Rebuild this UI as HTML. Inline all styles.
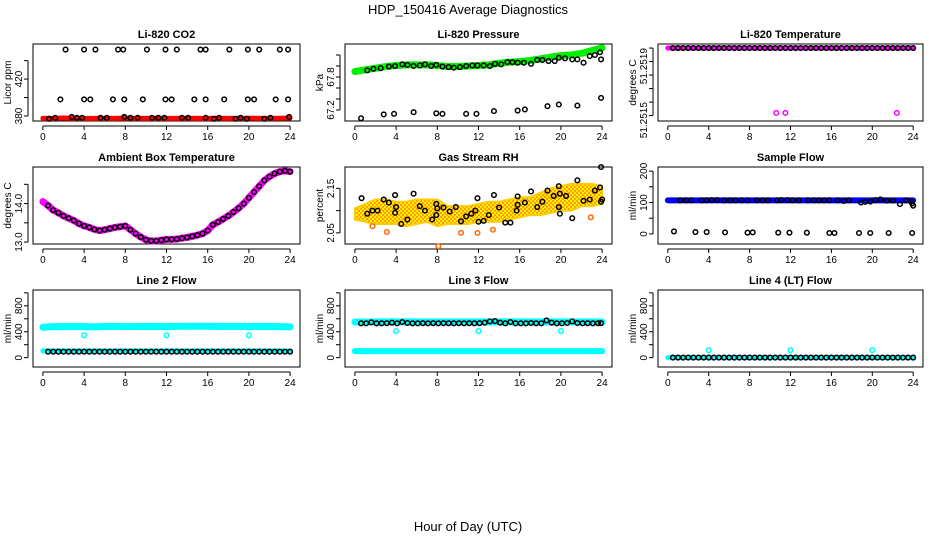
<!DOCTYPE html>
<html><head><meta charset="utf-8"><style>
html,body{margin:0;padding:0;background:#fff;}
svg{display:block;font-family:"Liberation Sans",sans-serif;}
</style></head><body>
<svg id="chart" width="936" height="540" viewBox="0 0 936 540" xmlns="http://www.w3.org/2000/svg">
<defs>
<pattern id="rhpat" width="4" height="4" patternUnits="userSpaceOnUse">
<rect width="4" height="4" fill="#ffee00"/><circle cx="1" cy="1" r="0.9" fill="#ff6a00"/><circle cx="3" cy="3" r="0.9" fill="#ff6a00"/>
</pattern>
</defs>
<text x="468" y="14" text-anchor="middle" font-size="13">HDP_150416  Average Diagnostics</text>
<text x="468" y="531" text-anchor="middle" font-size="13">Hour of Day (UTC)</text>
</svg>
<script>
// ---------- data ----------
const hours = [0,1,2,3,4,5,6,7,8,9,10,11,12,13,14,15,16,17,18,19,20,21,22,23,24];
const xTicks = [0,4,8,12,16,20,24];

// CO2
const co2Band = [377.5,377.5,377.8,377.6,377.5,377.4,377.6,377.5,377.8,377.5,377.4,377.6,377.5,377.5,377.6,377.4,377.5,377.6,377.4,377.5,377.6,377.5,377.4,377.6,377.8];
const co2LowX = [0.6,1.2,2.8,3.3,3.8,5.6,6.2,7.9,8.5,9.2,10.6,11.2,11.8,13.5,14.1,15.8,16.6,17.1,18.7,19.2,19.8,21.5,22.1,23.9];
const co2LowY = [377,378,379,378,378,378,378,379,378,378,378,378,378,378,378,378,377,378,377,378,377,377,378,379];
const co2MidX = [1.7,4.0,4.6,6.8,7.9,9.7,11.9,12.5,14.7,15.8,17.6,19.9,20.5,22.6,23.8];
const co2MidY = [398,398,398,398,398,398,398,398,398,398,398,398,398,398,398];
const co2TopX = [2.2,4.0,5.1,7.3,7.8,10.1,11.9,13.0,15.3,15.8,18.1,19.9,21.0,23.0,23.8];
const co2TopY = [452,452,452,452,452,452,452,452,452,452,452,452,452,452,452];

// Pressure
const presBand = [67.90,67.93,67.96,67.99,68.01,68.02,68.02,68.02,68.01,67.99,67.99,68.00,68.01,68.02,68.05,68.07,68.08,68.10,68.13,68.16,68.19,68.20,68.23,68.28,68.33];
const presHiX = [1.2,1.8,2.5,3.3,3.9,4.6,5.1,5.7,6.3,6.8,7.4,7.9,8.5,9.1,9.6,10.2,10.8,11.4,11.9,12.5,13.1,13.6,14.2,14.8,15.3,15.8,16.4,17.1,17.7,18.2,18.8,19.4,19.8,20.4,21.1,21.6,22.2,22.8,23.3,23.8,23.9];
const presHiY = [67.92,67.95,67.96,67.99,68.00,68.03,68.02,68.00,68.01,68.03,68.00,68.02,67.99,67.98,67.97,67.98,68.00,68.01,68.01,68.01,68.00,68.04,68.03,68.07,68.07,68.06,68.06,68.04,68.11,68.11,68.09,68.09,68.15,68.14,68.12,68.12,68.06,68.18,68.20,68.25,68.12];
const presLoX = [0.6,2.8,3.8,5.7,7.9,8.5,10.8,11.8,13.5,15.8,16.5,18.7,19.8,21.6,23.9];
const presLoY = [67.05,67.12,67.13,67.16,67.14,67.13,67.13,67.13,67.18,67.19,67.21,67.27,67.30,67.28,67.42];

// Li-820 Temperature
const tempBand = [51.2519,51.2519,51.2519,51.2519,51.2519,51.2519,51.2519,51.2519,51.2519,51.2519,51.2519,51.2519,51.2519,51.2519,51.2519,51.2519,51.2519,51.2519,51.2519,51.2519,51.2519,51.2519,51.2519,51.2519,51.2519];
const tempPtX = [0.5,1,1.5,2,2.5,3,3.5,4,4.5,5,5.5,6,6.5,7,7.5,8,8.5,9,9.5,10,10.5,11,11.5,12,12.5,13,13.5,14,14.5,15,15.5,16,16.5,17,17.5,18,18.5,19,19.5,20,20.5,21,21.5,22,22.5,23,23.5,24];
const tempPtY = [51.2519,51.2519,51.2519,51.2519,51.2519,51.2519,51.2519,51.2519,51.2519,51.2519,51.2519,51.2519,51.2519,51.2519,51.2519,51.2519,51.2519,51.2519,51.2519,51.2519,51.2519,51.2519,51.2519,51.2519,51.2519,51.2519,51.2519,51.2519,51.2519,51.2519,51.2519,51.2519,51.2519,51.2519,51.2519,51.2519,51.2519,51.2519,51.2519,51.2519,51.2519,51.2519,51.2519,51.2519,51.2519,51.2519,51.2519,51.2519];
const tempOutX = [10.6,11.5,22.4];
const tempOutY = [51.25142,51.25142,51.25142];

// Ambient box temperature
const ambX = [0,0.5,1,1.5,2,2.5,3,3.5,4,4.5,5,5.5,6,6.5,7,7.5,8,8.5,9,9.5,10,10.5,11,11.5,12,12.5,13,13.5,14,14.5,15,15.5,16,16.5,17,17.5,18,18.5,19,19.5,20,20.5,21,21.5,22,22.5,23,23.5,24];
const ambY = [14.05,13.95,13.83,13.76,13.68,13.62,13.56,13.48,13.42,13.38,13.33,13.30,13.32,13.35,13.38,13.40,13.42,13.32,13.22,13.13,13.06,13.03,13.03,13.05,13.07,13.07,13.08,13.10,13.12,13.15,13.18,13.22,13.30,13.45,13.52,13.60,13.68,13.78,13.88,14.00,14.15,14.30,14.45,14.60,14.70,14.78,14.83,14.85,14.83];

// Gas stream RH
const rhLow = [2.08,2.075,2.07,2.07,2.07,2.065,2.07,2.075,2.065,2.07,2.07,2.07,2.075,2.075,2.075,2.08,2.085,2.09,2.09,2.095,2.10,2.10,2.11,2.11,2.115];
const rhHigh = [2.105,2.115,2.125,2.125,2.12,2.12,2.125,2.125,2.125,2.11,2.11,2.11,2.115,2.12,2.12,2.125,2.13,2.13,2.14,2.15,2.155,2.16,2.16,2.16,2.155];
const rhOrX = [1.7,3.1,8.1,10.3,11.9,13.4,22.9];
const rhOrY = [2.065,2.052,2.02,2.05,2.05,2.057,2.085];
const rhBlkX = [0.65,1.2,1.7,2.2,2.8,3.3,3.9,3.9,4.0,4.5,5.1,5.7,6.3,6.8,7.5,7.9,7.9,8.0,8.6,9.2,9.8,10.3,10.8,11.3,11.7,11.9,12.0,12.5,13.0,13.5,14.0,14.6,15.1,15.7,15.8,15.8,16.5,17.1,17.7,18.2,18.7,19.3,19.8,19.8,19.9,19.9,20.5,21.1,21.6,22.2,22.8,23.3,23.8,23.9,23.9,24.0];
const rhBlkY = [2.128,2.093,2.10,2.10,2.125,2.118,2.135,2.095,2.108,2.07,2.08,2.138,2.11,2.10,2.08,2.115,2.09,2.105,2.107,2.098,2.108,2.076,2.087,2.093,2.10,2.128,2.075,2.077,2.09,2.135,2.107,2.073,2.073,2.10,2.132,2.113,2.118,2.143,2.108,2.12,2.145,2.133,2.155,2.108,2.138,2.093,2.133,2.083,2.168,2.122,2.125,2.145,2.152,2.198,2.12,2.125];

// Sample flow
const sfBand = [107,107,107,107,107,107,107,107,107,107,107,107,107,107,107,107,107,107,107,107,107,107,107,107,107];
const sfHiX = [1.2,1.8,2.3,3.3,3.8,4.3,4.8,5.5,6.1,6.6,7.2,7.8,8.7,9.3,9.8,10.7,11.1,11.7,12.2,12.8,13.7,14.3,14.8,15.3,15.8,16.6,17.2,17.7,18.9,19.3,19.8,20.3,20.8,21.4,22.0,22.7,23.3,23.8,23.9,24.0];
const sfHiY = [107,107,107,107,107,108,108,107,107,107,107,107,107,107,107,107,108,108,107,107,107,107,107,107,107,107,105,107,100,102,103,108,110,106,106,95,107,103,97,90];
const sfLoX = [0.6,2.7,3.8,5.6,7.8,8.3,10.8,11.9,13.6,15.8,16.3,18.7,19.8,21.6,23.9];
const sfLoY = [8,6,6,5,4,5,4,4,4,3,3,3,3,3,3];

// Line 2 flow
const l2Hi = [470,478,478,480,478,476,480,482,478,480,480,482,478,482,485,485,485,483,483,483,480,482,480,478,476];
const l2Lo = [105,105,105,105,105,105,105,105,105,105,105,105,105,105,105,105,105,105,105,105,105,105,105,105,105];
const l2BlkX = [0.5,1,1.5,2,2.5,3,3.5,4,4.5,5,5.5,6,6.5,7,7.5,8,8.5,9,9.5,10,10.5,11,11.5,12,12.5,13,13.5,14,14.5,15,15.5,16,16.5,17,17.5,18,18.5,19,19.5,20,20.5,21,21.5,22,22.5,23,23.5,24];
const l2BlkY = [92,92,92,92,92,92,92,92,92,92,92,92,92,92,92,92,92,92,92,92,92,92,92,92,92,92,92,92,92,92,92,92,92,92,92,92,92,92,92,92,92,92,92,92,92,92,92,92];
const l2OutX = [4,12,20];
const l2OutY = [345,345,345];

// Line 3 flow
const l3Hi = [550,548,552,552,552,552,552,552,552,552,552,552,552,552,552,552,552,552,552,552,552,552,552,552,550];
const l3Lo = [100,100,100,100,100,100,100,100,100,100,100,100,100,100,100,100,100,100,100,100,100,100,100,100,100];
const l3BlkX = [0.6,1.1,1.6,2.1,2.6,3.1,3.6,4.1,4.6,5.1,5.6,6.1,6.6,7.1,7.6,8.1,8.6,9.1,9.6,10.1,10.6,11.1,11.6,12.1,12.6,13.1,13.6,14.1,14.6,15.1,15.6,16.1,16.6,17.1,17.6,18.1,18.6,19.1,19.6,20.1,20.6,21.1,21.6,22.1,22.6,23.1,23.6,23.9];
const l3BlkY = [530,530,545,530,530,532,540,530,550,535,530,530,532,530,532,530,532,532,530,532,530,532,530,532,540,560,565,540,530,550,530,530,530,535,530,530,575,540,530,530,535,560,535,530,532,530,532,532];
const l3OutX = [4,12,20];
const l3OutY = [410,410,410];

// Line 4 flow
const l4Band = [0,0,0,0,0,0,0,0,0,0,0,0,0,0,0,0,0,0,0,0,0,0,0,0,0];
const l4BlkX = [0.5,1,1.5,2,2.5,3,3.5,4,4.5,5,5.5,6,6.5,7,7.5,8,8.5,9,9.5,10,10.5,11,11.5,12,12.5,13,13.5,14,14.5,15,15.5,16,16.5,17,17.5,18,18.5,19,19.5,20,20.5,21,21.5,22,22.5,23,23.5,24];
const l4BlkY = [2,2,2,2,2,2,2,2,2,2,2,2,2,2,2,2,2,2,2,2,2,2,2,2,2,2,2,2,2,2,2,2,2,2,2,2,2,2,2,2,2,2,2,2,2,2,2,2];
const l4OutX = [4,12,20];
const l4OutY = [115,115,115];

// tick values
const co2Ticks = [380,400,420,440]; const co2Labels = ["380","","420",""];
const presTicks = [67.2,67.4,67.6,67.8,68.0,68.2]; const presLabels = ["67.2","","","67.8","",""];
const tempTicks = [51.2514,51.2515,51.2516,51.2517,51.2518,51.2519]; const tempLabels = ["","51.2515","","","","51.2519"];
const ambTicks = [13.0,13.5,14.0,14.5]; const ambLabels = ["13.0","","14.0",""];
const rhTicks = [2.05,2.10,2.15]; const rhLabels = ["2.05","","2.15"];
const sfTicks = [0,50,100,150,200]; const sfLabels = ["0","","100","","200"];
const flowTicks = [0,200,400,600,800,1000]; const flowLabels = ["0","","400","","800",""];

// ---------- layout ----------
const svg = document.getElementById('chart');
const NS = 'http://www.w3.org/2000/svg';
const colL = [33,345,658], colW = [267,267,265];
const rowT = [44,167,290], rowH = 77;
const XMIN = -0.96, XMAX = 24.96;

function mk(tag, attrs, parent){ const e=document.createElementNS(NS,tag); for(const k in attrs) e.setAttribute(k,attrs[k]); (parent||svg).appendChild(e); return e; }

function panel(name, col, row, title, ylab, ymin, ymax, ticks, labels, anchor){
  const g = mk('g',{});
  
  
  const L=colL[col], W=colW[col], T=rowT[row], H=rowH;
  const sx = v => L + (v-XMIN)/(XMAX-XMIN)*W;
  const sy = v => T + H - (v-ymin)/(ymax-ymin)*H;
  const box = mk('rect',{x:L,y:T,width:W,height:H,fill:'none',stroke:'#000','stroke-width':1},g);
  
  
  const t = mk('text',{x:L+W/2,y:T-6,'text-anchor':'middle','font-size':11,'font-weight':'bold'},g);
  t.textContent = title;
  
  
  const yl = mk('text',{transform:`translate(${L-22},${T+H/2}) rotate(-90)`,'text-anchor':'middle','font-size':10},g);
  yl.textContent = ylab;
  
  
  const B = T+H;
  mk('line',{x1:sx(0),x2:sx(24),y1:B+5,y2:B+5,stroke:'#000'},g);
  xTicks.forEach(v=>{
    mk('line',{x1:sx(v),x2:sx(v),y1:B+5,y2:B+9,stroke:'#000'},g);
    const tl = mk('text',{x:sx(v),y:B+19,'text-anchor':'middle','font-size':10},g);
    tl.textContent = String(v);
    
    
  });
  mk('line',{x1:L-5,x2:L-5,y1:sy(ticks[0]),y2:sy(ticks[ticks.length-1]),stroke:'#000'},g);
  ticks.forEach((v,i)=>{
    mk('line',{x1:L-9,x2:L-5,y1:sy(v),y2:sy(v),stroke:'#000'},g);
    if(labels[i]){
      const tl = mk('text',{transform:`translate(${L-11},${sy(v)}) rotate(-90)`,'text-anchor':anchor||'middle','font-size':10},g);
      tl.textContent = labels[i];
      
      
    }
  });
  return {g, sx, sy, L, T, W, H};
}

function band(p, xs, ys, color, w, nm){
  const pts = xs.map((x,i)=>p.sx(x)+','+p.sy(ys[i])).join(' ');
  const e = mk('polyline',{points:pts,fill:'none',stroke:color,'stroke-width':w,'stroke-linecap':'round','stroke-linejoin':'round'},p.g);
  
  
}
function pts(p, xs, ys, color, nm, r){
  xs.forEach((x,i)=>{
    const c = mk('circle',{cx:p.sx(x),cy:p.sy(ys[i]),r:r||2.3,fill:'none',stroke:color,'stroke-width':1.5},p.g);
    
    
  });
}

let p = panel('co2-panel',0,0,'Li-820 CO2','Licor ppm',374.6,458,co2Ticks,co2Labels);
band(p,hours,co2Band,'#ff0000',5,'co2-band');
pts(p,co2LowX,co2LowY,'#000','co2-point');
pts(p,co2MidX,co2MidY,'#000','co2-point');
pts(p,co2TopX,co2TopY,'#000','co2-point');

p = panel('pressure-panel',1,0,'Li-820 Pressure','kPa',67.0,68.4,presTicks,presLabels);
band(p,hours,presBand,'#00ee00',7,'pressure-band');
pts(p,presHiX,presHiY,'#000','pressure-point');
pts(p,presLoX,presLoY,'#000','pressure-point');

p = panel('li820-temp-panel',2,0,'Li-820 Temperature','degrees C',51.25136,51.25193,tempTicks,tempLabels,'end');
band(p,hours,tempBand,'#ff00ff',5,'temp-band');
pts(p,tempPtX,tempPtY,'#000','temp-point');
pts(p,tempOutX,tempOutY,'#ff00ff','temp-outlier');

p = panel('ambient-temp-panel',0,1,'Ambient Box Temperature','degrees C',12.95,14.95,ambTicks,ambLabels);
band(p,ambX,ambY,'#ff00ff',7,'ambient-band');
pts(p,ambX.slice(1),ambY.slice(1),'#000','ambient-point');

p = panel('rh-panel',1,1,'Gas Stream RH','percent',2.025,2.198,rhTicks,rhLabels);
{
  const up = hours.map((x,i)=>p.sx(x)+','+p.sy(rhHigh[i]));
  const lo = hours.map((x,i)=>p.sx(x)+','+p.sy(rhLow[i])).reverse();
  const poly = mk('polygon',{points:up.concat(lo).join(' '),fill:'url(#rhpat)',stroke:'#ffcc00','stroke-width':2},p.g);
  
  
}
pts(p,rhOrX,rhOrY,'#ff6a00','rh-outlier');
pts(p,rhBlkX,rhBlkY,'#000','rh-point');

p = panel('sample-flow-panel',2,1,'Sample Flow','ml/min',-32,213,sfTicks,sfLabels);
band(p,hours,sfBand,'#0000ff',6,'sample-flow-band');
pts(p,sfHiX,sfHiY,'#000','sample-flow-point');
pts(p,sfLoX,sfLoY,'#000','sample-flow-point');

p = panel('line2-panel',0,2,'Line 2 Flow','ml/min',-144,1044,flowTicks,flowLabels);
band(p,hours,l2Hi,'#00ffff',7,'line2-high-band');
band(p,hours,l2Lo,'#00ffff',5,'line2-low-band');
pts(p,l2BlkX,l2BlkY,'#000','line2-point');
pts(p,l2OutX,l2OutY,'#00ffff','line2-outlier');

p = panel('line3-panel',1,2,'Line 3 Flow','ml/min',-144,1044,flowTicks,flowLabels);
band(p,hours,l3Hi,'#00ffff',7,'line3-high-band');
band(p,hours,l3Lo,'#00ffff',6,'line3-low-band');
pts(p,l3BlkX,l3BlkY,'#000','line3-point');
pts(p,l3OutX,l3OutY,'#00ffff','line3-outlier');

p = panel('line4-panel',2,2,'Line 4 (LT) Flow','ml/min',-144,1044,flowTicks,flowLabels);
band(p,hours,l4Band,'#00ffff',5,'line4-band');
pts(p,l4BlkX,l4BlkY,'#000','line4-point');
pts(p,l4OutX,l4OutY,'#00ffff','line4-outlier');
</script>
</body></html>
